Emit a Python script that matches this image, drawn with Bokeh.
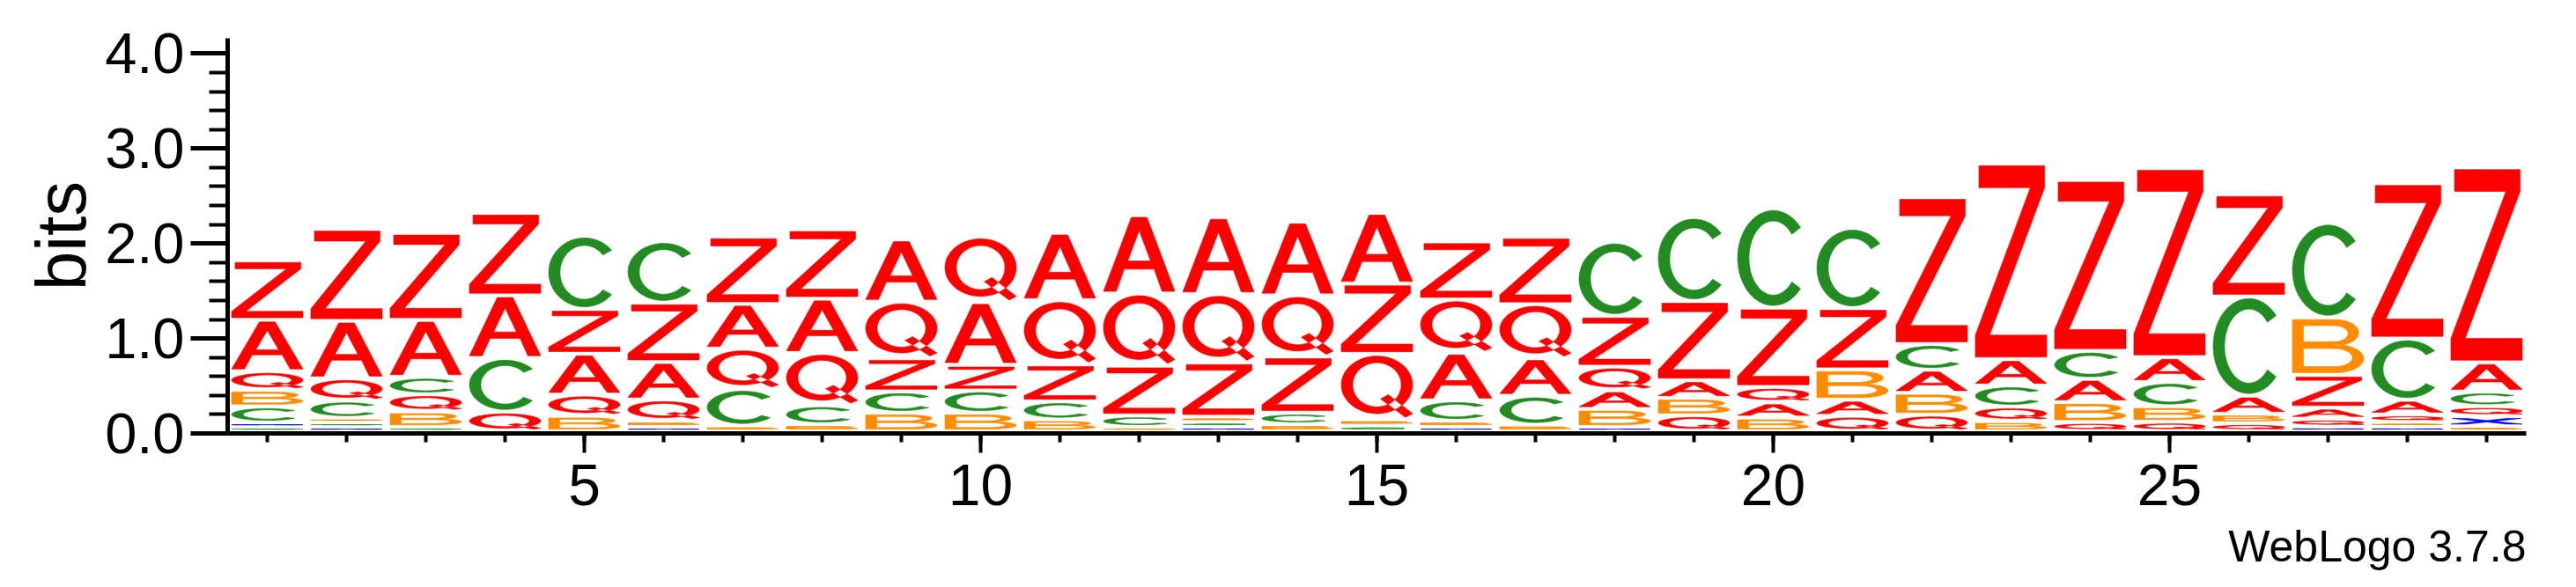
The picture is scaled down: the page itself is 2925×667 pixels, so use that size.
import numpy as np
from bokeh.plotting import figure
from bokeh.models import FixedTicker, PrintfTickFormatter, Title, ColumnDataSource
from bokeh.embed import file_html
from bokeh.resources import INLINE

# ---------------- data (visible glyph heights in bits, per position 1..29) ----------------
positions = list(range(1, 30))
A_bits = [0.496, 0.56, 0.555, 0.614, 0.386, 0.35, 0.426, 0.526, 0.61, 0.615, 0.665, 0.78, 0.766, 0.73, 0.7,
          0.457, 0.349, 0.15, 0.14, 0.115, 0.124, 0.198, 0.232, 0.2, 0.217, 0.145, 0.071, 0.11, 0.263]
B_bits = [0.128, 0.003, 0.118, 0.0, 0.118, 0.02, 0.015, 0.03, 0.15, 0.15, 0.08, 0.001, 0.01, 0.03, 0.02,
          0.02, 0.025, 0.145, 0.138, 0.099, 0.275, 0.185, 0.062, 0.164, 0.118, 0.055, 0.56, 0.004, 0.008]
C_bits = [0.125, 0.137, 0.138, 0.52, 0.726, 0.602, 0.34, 0.154, 0.18, 0.19, 0.145, 0.075, 0.008, 0.075, 0.015,
          0.169, 0.26, 0.735, 0.84, 1.0, 0.8, 0.226, 0.176, 0.25, 0.21, 1.0, 0.95, 0.6, 0.108]
G_bits = [0.001, 0.002, 0.001, 0.0, 0.0, 0.0, 0.0, 0.0, 0.0, 0.0, 0.0, 0.0, 0.0, 0.0, 0.0,
          0.0, 0.0, 0.0, 0.0, 0.0, 0.0, 0.0, 0.0, 0.0, 0.0, 0.0, 0.0, 0.0, 0.0]
Q_bits = [0.153, 0.19, 0.136, 0.162, 0.178, 0.179, 0.38, 0.506, 0.55, 0.645, 0.63, 0.715, 0.674, 0.6, 0.645,
          0.516, 0.525, 0.205, 0.124, 0.118, 0.118, 0.13, 0.109, 0.053, 0.056, 0.04, 0.04, 0.035, 0.062]
X_bits = [0.001, 0.001, 0.0, 0.0, 0.0, 0.001, 0.0, 0.0, 0.0, 0.0, 0.0, 0.0, 0.001, 0.0, 0.0,
          0.001, 0.0, 0.001, 0.0, 0.0, 0.0, 0.0, 0.0, 0.0, 0.0, 0.0, 0.003, 0.003, 0.06]
Z_bits = [0.582, 0.923, 0.871, 0.824, 0.426, 0.58, 0.664, 0.685, 0.305, 0.225, 0.345, 0.48, 0.526, 0.547, 0.695,
          0.566, 0.664, 0.49, 0.79, 0.79, 0.6, 1.501, 2.015, 1.755, 1.946, 1.03, 0.3, 1.59, 2.008]

letters = ["A", "B", "C", "G", "Q", "X", "Z"]
heights = {"A": A_bits, "B": B_bits, "C": C_bits, "G": G_bits, "Q": Q_bits, "X": X_bits, "Z": Z_bits}
colors = {"A": "#ff0000", "Q": "#ff0000", "Z": "#ff0000", "C": "#228b22", "G": "#228b22",
          "B": "#ff8c00", "X": "#0000ff"}

y_ticks = [0, 1, 2, 3, 4]
x_ticks = [5, 10, 15, 20, 25]
y_label = "bits"
footer = "WebLogo 3.7.8"

GAP = 0.045     # vertical spacing between stacked letters (bits)
WIDTH = 0.9     # letter width (positions)


# ---------------- letter outlines in a unit box ----------------
def arc(cx, cy, rx, ry, a0, a1, n=48):
    t = np.radians(np.linspace(a0, a1, n))
    return list(zip(cx + rx * np.cos(t), cy + ry * np.sin(t)))


def ring(cx, cy, rx, ry, n=72):
    return arc(cx, cy, rx, ry, 0, 360, n)[:-1]


SHAPES = {
    "A": [([(0, 0), (0.39, 1), (0.61, 1), (1, 0), (0.82, 0), (0.71, 0.30), (0.29, 0.30), (0.18, 0)],
           [[(0.34, 0.41), (0.66, 0.41), (0.5, 0.82)]])],
    "Z": [([(0.05, 1), (0.97, 1), (0.97, 0.885), (0.2, 0.115), (1, 0.115), (1, 0), (0, 0), (0, 0.115),
            (0.77, 0.885), (0.05, 0.885)], [])],
    "X": [([(0.02, 1), (0.22, 1), (0.5, 0.63), (0.78, 1), (0.98, 1), (0.61, 0.5), (1, 0), (0.79, 0),
            (0.5, 0.37), (0.21, 0), (0, 0), (0.39, 0.5)], [])],
    "B": [([(0, 0), (0, 1), (0.6, 1)] + arc(0.6, 0.755, 0.33, 0.245, 90, -90)
           + arc(0.6, 0.265, 0.4, 0.265, 90, -90) + [(0, 0)],
           [[(0.155, 0.585), (0.155, 0.885)] + arc(0.58, 0.735, 0.2, 0.15, 90, -90),
            [(0.155, 0.115), (0.155, 0.455)] + arc(0.58, 0.285, 0.26, 0.17, 90, -90)])],
    "C": [(arc(0.5, 0.5, 0.5, 0.5, 40, 320) + arc(0.5, 0.5, 0.34, 0.39, 320, 40), [])],
    "G": [(arc(0.5, 0.5, 0.5, 0.5, 40, 360) + [(1.0, 0.52), (0.55, 0.52), (0.55, 0.42), (0.84, 0.42)]
           + arc(0.5, 0.5, 0.34, 0.39, 355, 40), [])],
    "Q": [(ring(0.5, 0.53, 0.5, 0.47), [ring(0.5, 0.53, 0.34, 0.36)]),
          ([(0.55, 0.30), (0.66, 0.37), (1.0, 0.06), (0.90, 0.0)], [])],
}

# ---------------- stack the letters ----------------
xs_all, ys_all, col_all, name_all = [], [], [], []
for i, pos in enumerate(positions):
    col = [(L, heights[L][i]) for L in letters if heights[L][i] > 0]
    col.sort(key=lambda t: t[1])
    y = 0.0
    for L, h in col:
        y += GAP
        gx, gy = [], []
        for ext, holes in SHAPES[L]:
            gx.append([[pos - WIDTH / 2 + WIDTH * u for u, v in r] for r in [ext] + holes])
            gy.append([[y + h * v for u, v in r] for r in [ext] + holes])
        xs_all.append(gx)
        ys_all.append(gy)
        col_all.append(colors[L])
        name_all.append(L)
        y += h

src = ColumnDataSource(dict(xs=xs_all, ys=ys_all, color=col_all, letter=name_all))

FRAME_H = 449
p = figure(frame_width=2610, frame_height=FRAME_H, min_border_left=258, min_border_right=37,
           min_border_top=43, min_border_bottom=158,
           x_range=(0.5, 29.5), y_range=(0, FRAME_H / 107.9),
           output_backend="svg", toolbar_location=None)
p.multi_polygons(xs="xs", ys="ys", fill_color="color", line_color="color", line_width=0.6, source=src)

p.xgrid.visible = False
p.ygrid.visible = False
p.outline_line_color = None
p.background_fill_color = "white"
p.border_fill_color = "white"

FONT = "Liberation Sans"
ya = p.yaxis[0]
ya.ticker = FixedTicker(ticks=y_ticks, minor_ticks=[round(0.2 * k, 1) for k in range(21)])
ya.formatter = PrintfTickFormatter(format="%.1f")
ya.axis_line_width = 5
ya.major_tick_line_width = 5
ya.minor_tick_line_width = 4
ya.major_tick_in = 0
ya.minor_tick_in = 0
ya.major_tick_out = 42
ya.minor_tick_out = 21
ya.major_label_standoff = 7
ya.major_label_text_font = FONT
ya.major_label_text_font_size = "65px"
ya.major_label_text_color = "black"
ya.axis_label = y_label
ya.axis_label_text_font = FONT
ya.axis_label_text_font_size = "80px"
ya.axis_label_text_font_style = "normal"
ya.axis_label_text_color = "black"
ya.axis_label_standoff = 2

xa = p.xaxis[0]
xa.ticker = FixedTicker(ticks=x_ticks, minor_ticks=positions)
xa.axis_line_width = 5
xa.major_tick_line_width = 4
xa.minor_tick_line_width = 4
xa.major_tick_in = 0
xa.minor_tick_in = 0
xa.major_tick_out = 22
xa.minor_tick_out = 10
xa.major_label_standoff = 13
xa.major_label_text_font = FONT
xa.major_label_text_font_size = "66px"
xa.major_label_text_color = "black"

p.add_layout(Title(text=footer, align="right", standoff=28, text_font=FONT, text_font_size="50px",
                   text_font_style="normal", text_color="black"), "below")

open("out.html", "w").write(file_html(p, INLINE))
